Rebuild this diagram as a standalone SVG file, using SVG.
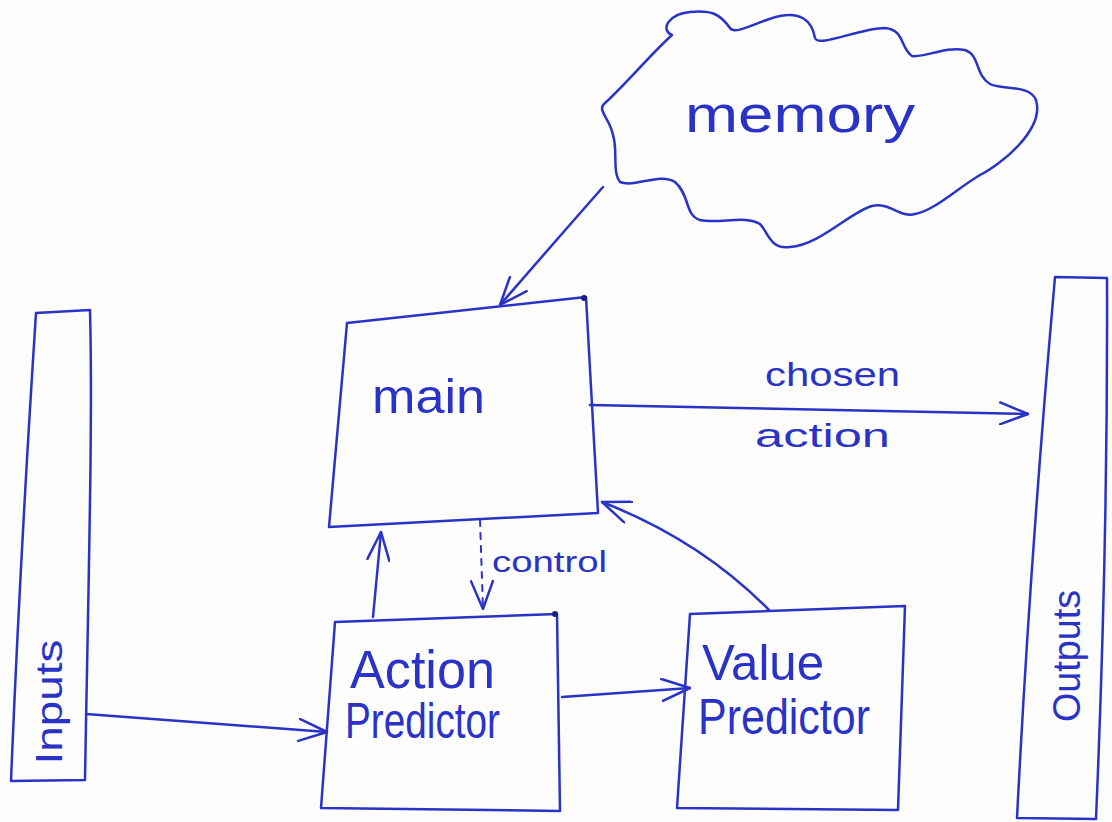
<svg xmlns="http://www.w3.org/2000/svg" width="1112" height="822" viewBox="0 0 1112 822">
  <style>
    .ink { fill: none; stroke: #2a33c6; stroke-width: 2.5; stroke-linecap: round; stroke-linejoin: round; }
    .lbl { fill: #2a33c6; font-family: "Liberation Sans", "DejaVu Sans", sans-serif; }
    .dash { stroke-dasharray: 6 7; stroke-width: 2; }
  </style>
  <defs>
    <marker id="head" viewBox="0 0 30 24" refX="29" refY="12" markerWidth="30" markerHeight="24" markerUnits="userSpaceOnUse" orient="auto">
      <path d="M1 1 L29 12 L1 23" fill="none" stroke="#2a33c6" stroke-width="2.5" stroke-linecap="round" stroke-linejoin="round"/>
    </marker>
  </defs>
  <rect width="1112" height="822" fill="#fdfdfe"/>

  <!-- input bar -->
  <g id="inputs">
    <path class="ink" d="M36 313 L90 310 C93 420 88 600 85 780 L11 781 Q20 560 36 313 Z"/>
    <text class="lbl" transform="translate(62,702) rotate(-90)" text-anchor="middle" font-size="36" textLength="125" lengthAdjust="spacingAndGlyphs">Inputs</text>
  </g>

  <!-- output bar -->
  <g id="outputs">
    <path class="ink" d="M1055 277 L1107 278 Q1108 540 1096 819 L1017 818 Q1030 560 1055 277 Z"/>
    <text class="lbl" transform="translate(1080,656) rotate(-90)" text-anchor="middle" font-size="38" textLength="132" lengthAdjust="spacingAndGlyphs">Outputs</text>
  </g>

  <!-- memory cloud -->
  <g id="memory">
    <path class="ink" d="M672 35 C660 30 668 14 690 12 C712 10 720 14 730 28 C735 36 760 20 780 16 C800 12 812 20 815 38 C818 48 860 28 885 28 C905 30 900 48 912 56 C925 58 945 46 965 50 C980 55 975 75 990 84 C1000 90 1030 84 1036 100 C1045 130 1000 165 980 175 C955 190 935 210 915 214 C900 218 890 202 872 206 C850 212 820 245 790 247 C770 250 768 232 760 224 C745 215 720 224 700 220 C685 216 690 195 675 182 C660 172 635 188 620 182 C612 172 618 150 613 135 C610 118 596 110 605 103 C625 85 650 55 672 35 Z"/>
    <text class="lbl" x="685" y="132" font-size="52" textLength="230" lengthAdjust="spacingAndGlyphs">memory</text>
  </g>

  <!-- main controller -->
  <g id="main">
    <path class="ink" d="M347 323 L586 297 L598 513 L329 527 Z"/>
    <circle cx="584" cy="298" r="3" fill="#1a1f80"/>
    <text class="lbl" x="372" y="413" font-size="48" textLength="113" lengthAdjust="spacingAndGlyphs">main</text>
  </g>

  <!-- action predictor -->
  <g id="action-predictor">
    <path class="ink" d="M335 622 L557 614 L560 811 L321 808 Z"/>
    <circle cx="555" cy="614" r="3" fill="#1a1f80"/>
    <text class="lbl" x="350" y="688" font-size="54" textLength="145" lengthAdjust="spacingAndGlyphs">Action</text>
    <text class="lbl" x="345" y="738" font-size="50" textLength="155" lengthAdjust="spacingAndGlyphs">Predictor</text>
  </g>

  <!-- value predictor -->
  <g id="value-predictor">
    <path class="ink" d="M690 614 L905 606 L898 810 L677 808 Z"/>
    <text class="lbl" x="702" y="680" font-size="50" textLength="122" lengthAdjust="spacingAndGlyphs">Value</text>
    <text class="lbl" x="698" y="734" font-size="50" textLength="172" lengthAdjust="spacingAndGlyphs">Predictor</text>
  </g>

  <!-- connectors -->
  <g id="connectors">
    <path class="ink" d="M603 187 Q552 245 500 305" marker-end="url(#head)"/>
    <path class="ink" d="M590 405 L1028 414" marker-end="url(#head)"/>
    <path class="ink" d="M373 617 L381 532" marker-end="url(#head)"/>
    <path class="ink dash" d="M480 520 L483 609" marker-end="url(#head)"/>
    <path class="ink" d="M769 610 Q700 540 602 502" marker-end="url(#head)"/>
    <path class="ink" d="M86 714 L327 732" marker-end="url(#head)"/>
    <path class="ink" d="M562 697 L690 688" marker-end="url(#head)"/>
    <text class="lbl" x="765" y="386" font-size="34" textLength="135" lengthAdjust="spacingAndGlyphs">chosen</text>
    <text class="lbl" x="755" y="447" font-size="34" textLength="135" lengthAdjust="spacingAndGlyphs">action</text>
    <text class="lbl" x="492" y="572" font-size="30" textLength="115" lengthAdjust="spacingAndGlyphs">control</text>
  </g>
</svg>
